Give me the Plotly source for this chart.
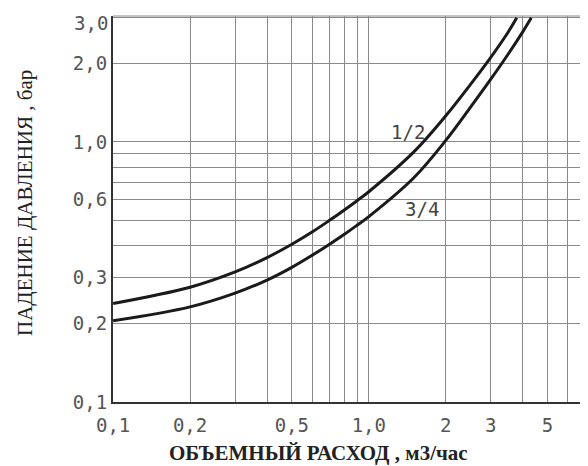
import plotly.graph_objects as go
import math

# ---- data ----
flow_half = [0.1, 0.2, 0.3, 0.4, 0.5, 0.6, 0.7, 0.8, 0.9, 1.0, 1.5, 2.0, 2.5, 3.0, 3.5, 3.79]
drop_half = [0.239, 0.276, 0.316, 0.359, 0.404, 0.450, 0.498, 0.546, 0.594, 0.643, 0.915, 1.26, 1.665, 2.115, 2.635, 3.0]

flow_three_quarter = [0.1, 0.2, 0.3, 0.4, 0.5, 0.6, 0.7, 0.8, 0.9, 1.0, 1.5, 2.0, 2.5, 3.0, 3.5, 4.0, 4.32]
drop_three_quarter = [0.205, 0.232, 0.262, 0.294, 0.329, 0.366, 0.403, 0.440, 0.478, 0.516, 0.728, 1.013, 1.36, 1.742, 2.168, 2.649, 3.0]

x_grid = [0.1, 0.2, 0.3, 0.4, 0.5, 0.6, 0.7, 0.8, 0.9, 1.0, 2, 3, 4, 5, 6]
x_text = ["0,1", "0,2", "", "", "0,5", "", "", "", "", "1,0", "2", "3", "", "5", ""]

y_grid = [0.1, 0.2, 0.3, 0.4, 0.5, 0.6, 0.7, 0.8, 0.9, 1.0, 2.0, 3.0]
y_text = ["0,1", "0,2", "0,3", "", "", "0,6", "", "", "", "1,0", "2,0", ""]
y_top_value = 3.0
y_top_text = "3,0"

series_labels = ["1/2", "3/4"]
label_pos_x = [1.42, 1.61]
label_pos_y = [1.09, 0.55]

mono = "DejaVu Sans Mono"
serif = "Liberation Serif"

fig = go.Figure()
for xs, ys in [(flow_half, drop_half), (flow_three_quarter, drop_three_quarter)]:
    fig.add_trace(go.Scatter(x=xs, y=ys, mode="lines",
                             line=dict(color="#1a1a1a", width=3, shape="spline", smoothing=1.0),
                             showlegend=False, hoverinfo="skip", cliponaxis=True))

for t, lx, ly in zip(series_labels, label_pos_x, label_pos_y):
    fig.add_annotation(x=math.log10(lx), y=math.log10(ly), text=t, showarrow=False,
                       font=dict(family=mono, size=19, color="#444"))

fig.update_xaxes(type="log", range=[-1.0005, math.log10(7.2)], tickmode="array", tickvals=x_grid, ticktext=x_text,
                 showgrid=True, gridcolor="#8a8a8a", gridwidth=1, showline=True, linecolor="#333", linewidth=2,
                 ticks="outside", ticklen=5, tickcolor="rgba(0,0,0,0)", automargin=False,
                 tickfont=dict(family=mono, size=19, color="#555"), zeroline=False)
fig.update_yaxes(type="log", range=[-1.0005, math.log10(3.0) + 0.007], tickmode="array", tickvals=y_grid, ticktext=y_text,
                 showgrid=True, gridcolor="#8a8a8a", gridwidth=1, showline=True, linecolor="#333", linewidth=2,
                 ticks="outside", ticklen=0, tickcolor="rgba(0,0,0,0)", automargin=False,
                 tickfont=dict(family=mono, size=19, color="#555"), zeroline=False)

# top tick label sits just below its grid line (as in the reference)
fig.add_annotation(text=y_top_text, xref="paper", x=0, y=math.log10(y_top_value), xanchor="right", yanchor="middle",
                   xshift=-3, yshift=-5, showarrow=False, font=dict(family=mono, size=19, color="#555"))

# top border of the plotting frame
fig.add_shape(type="line", xref="paper", yref="paper", x0=0, x1=1, y0=1, y1=1,
              line=dict(color="#8a8a8a", width=1))

fig.add_annotation(text="<b>ОБЪЕМНЫЙ РАСХОД , м3/час</b>", xref="paper", yref="paper",
                   x=(318 - 113) / 475, y=-(453 - 402) / 386,
                   showarrow=False, font=dict(family=serif, size=21, color="#222"),
                   xanchor="center", yanchor="middle")
fig.add_annotation(text="ПАДЕНИЕ ДАВЛЕНИЯ , бар", xref="paper", yref="paper",
                   x=-(113 - 25) / 475, y=(402 - 203) / 386,
                   showarrow=False, textangle=-90, font=dict(family=serif, size=21, color="#222"),
                   xanchor="center", yanchor="middle")

# page body has an 8px default margin, so the figure is sized/offset accordingly
fig.update_layout(width=580, height=458, margin=dict(l=105, r=0, t=8, b=64),
                  plot_bgcolor="white", paper_bgcolor="white")

fig.write_html("out.html")
